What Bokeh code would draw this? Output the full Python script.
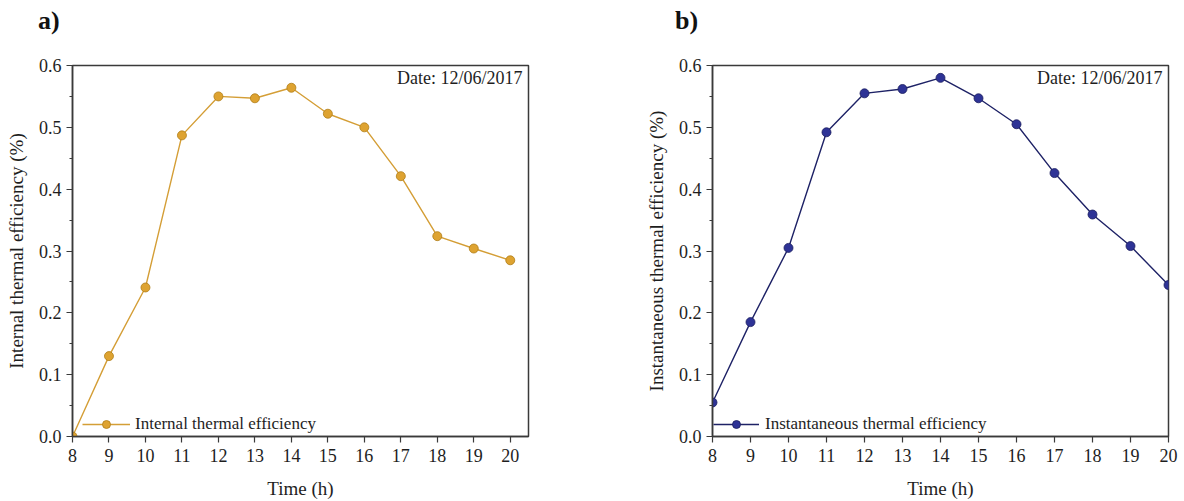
from bokeh.plotting import figure
from bokeh.layouts import row, column
from bokeh.models import (Range1d, FixedTicker, PrintfTickFormatter,
                          Label, Legend, LegendItem, Div)
from bokeh.embed import file_html
from bokeh.resources import INLINE

# Hourly efficiency readings, 12/06/2017
hours = [8, 9, 10, 11, 12, 13, 14, 15, 16, 17, 18, 19, 20]
internal_eff = [0.000, 0.130, 0.241, 0.487, 0.550, 0.547, 0.564,
                0.522, 0.500, 0.421, 0.324, 0.304, 0.285]
instant_eff = [0.055, 0.185, 0.305, 0.492, 0.555, 0.562, 0.580,
               0.547, 0.505, 0.426, 0.359, 0.308, 0.245]
y_ticks = [0.0, 0.1, 0.2, 0.3, 0.4, 0.5, 0.6]
y_minor = [0.05, 0.15, 0.25, 0.35, 0.45, 0.55]

FONT = "Liberation Serif"
AXIS_COLOR = "#3a3a3a"
TEXT_COLOR = "#1e1e1e"
TAG_H = 42


def make_panel(tag, tag_pad, y_title, series_name, values, x_end, line_color,
               fill_color, edge_color, border_left, border_right,
               legend_x, legend_glyph_w, legend_standoff):
    width = border_left + 456 + border_right
    p = figure(width=width, height=501 - TAG_H,
               output_backend="svg", toolbar_location=None,
               x_range=Range1d(8, x_end), y_range=Range1d(0, 0.6),
               min_border_left=border_left, min_border_right=border_right,
               min_border_top=65 - TAG_H, min_border_bottom=65)
    p.grid.visible = False
    p.background_fill_color = "white"
    p.border_fill_color = "white"
    p.outline_line_color = AXIS_COLOR
    p.outline_line_width = 1.5
    p.outline_line_alpha = 1

    p.xaxis.ticker = FixedTicker(ticks=hours)
    p.yaxis.ticker = FixedTicker(ticks=y_ticks, minor_ticks=y_minor)
    p.yaxis.formatter = PrintfTickFormatter(format="%.1f")
    for ax in (p.xaxis[0], p.yaxis[0]):
        ax.axis_line_color = AXIS_COLOR
        ax.axis_line_width = 1.5
        ax.major_tick_line_color = AXIS_COLOR
        ax.major_tick_line_width = 1.2
        ax.minor_tick_line_color = AXIS_COLOR
        ax.minor_tick_line_width = 1.2
        ax.major_tick_in = 0
        ax.major_tick_out = 6
        ax.minor_tick_in = 0
        ax.minor_tick_out = 3
        ax.major_label_text_font = FONT
        ax.major_label_text_font_size = "18px"
        ax.major_label_text_color = TEXT_COLOR
        ax.axis_label_text_font = FONT
        ax.axis_label_text_font_size = "19px"
        ax.axis_label_text_font_style = "normal"
        ax.axis_label_text_color = TEXT_COLOR
    p.xaxis.axis_label = "Time (h)"
    p.xaxis.major_label_standoff = 6
    p.xaxis.axis_label_standoff = 13
    p.yaxis.axis_label = y_title
    p.yaxis.major_label_standoff = 5
    p.yaxis.axis_label_standoff = 9

    p.line(hours, values, line_color=line_color, line_width=1.4)
    p.scatter(hours, values, size=9, fill_color=fill_color,
              line_color=edge_color, line_width=0.8)

    nan = float("nan")
    leg_line = p.line([nan], [nan], line_color=line_color, line_width=1.4)
    leg_pt = p.scatter([nan], [nan], size=11, fill_color=fill_color,
                       line_color=edge_color, line_width=0.8)
    legend = Legend(items=[LegendItem(label=series_name,
                                      renderers=[leg_line, leg_pt])],
                    location=(legend_x, 2), glyph_width=legend_glyph_w,
                    glyph_height=20, label_standoff=legend_standoff,
                    label_height=20,
                    padding=0, margin=0, spacing=0,
                    label_text_font=FONT, label_text_font_size="17px",
                    label_text_color=TEXT_COLOR,
                    background_fill_alpha=0, border_line_alpha=0)
    p.add_layout(legend, "center")

    p.add_layout(Label(x=x_end, y=0.579, x_offset=-6, text="Date: 12/06/2017",
                       text_align="right", text_baseline="middle",
                       text_font=FONT, text_font_size="18px",
                       text_color=TEXT_COLOR))

    # panel tag in a strip above the plot
    tag_div = Div(text=tag, width=width, height=TAG_H, margin=0,
                  styles={"font-family": FONT, "font-size": "26px",
                          "font-weight": "bold", "color": "#111111",
                          "line-height": f"{TAG_H}px",
                          "padding-left": f"{tag_pad}px",
                          "box-sizing": "border-box"})
    return column(tag_div, p, spacing=0, margin=0)


pa = make_panel("a)", 38, "Internal thermal efficiency (%)",
                "Internal thermal efficiency", internal_eff, 20.5,
                "#d49e36", "#dea331", "#b07d18", 72, 64,
                10, 48, 5)
pb = make_panel("b)", 83, "Instantaneous thermal efficiency (%)",
                "Instantaneous thermal efficiency", instant_eff, 20,
                "#1e2266", "#2e3396", "#1a1d5e", 120, 16,
                1, 46, 6)

layout = row(pa, pb, spacing=0, margin=0)
open("out.html", "w").write(file_html(layout, INLINE))
